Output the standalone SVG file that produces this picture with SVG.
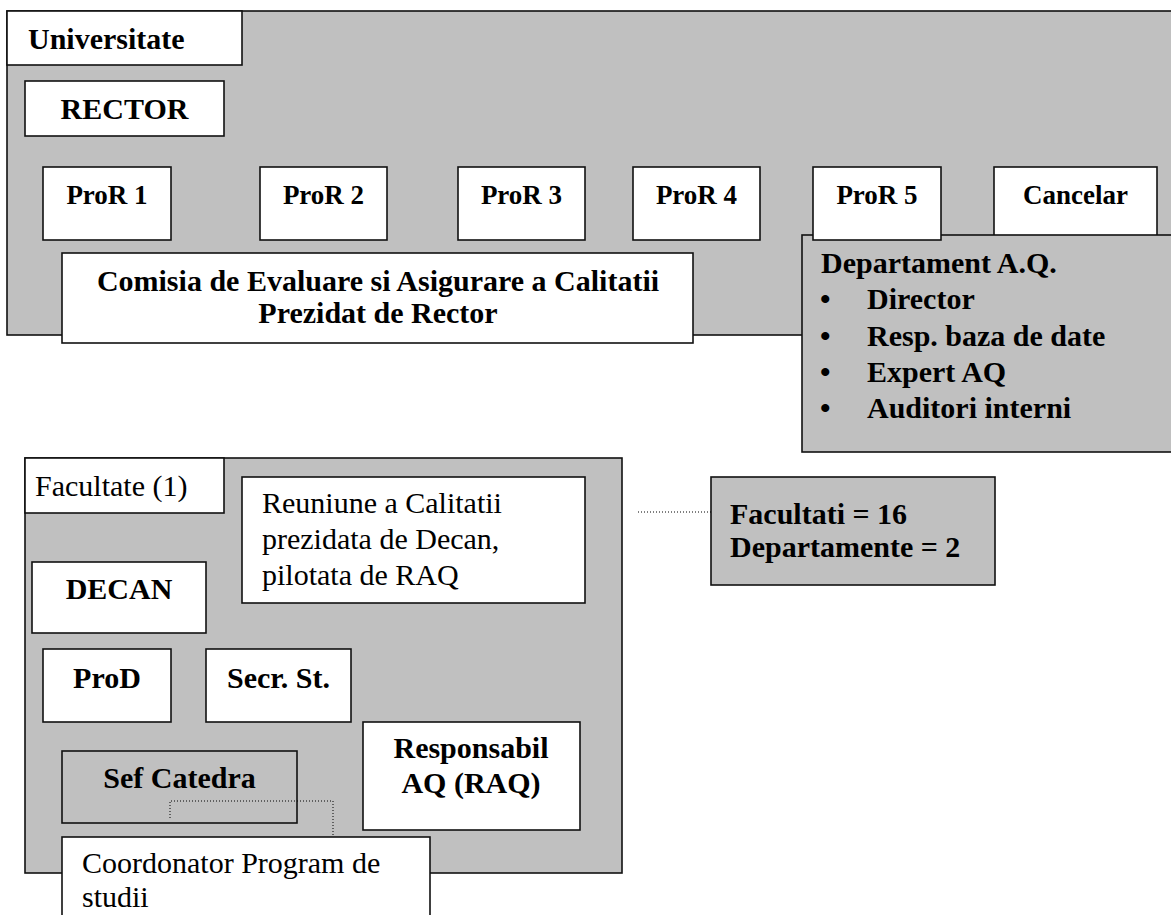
<svg xmlns="http://www.w3.org/2000/svg" width="1171" height="915" viewBox="0 0 1171 915">
<style>
  .box { fill: #ffffff; stroke: #111; stroke-width: 1.6; }
  .grey { fill: #c0c0c0; stroke: #111; stroke-width: 1.6; }
  .t { font-family: "Liberation Serif", "Times New Roman", serif; font-size: 30px; fill: #000; }
  .b { font-weight: bold; }
  .s { font-size: 27px; }
  .c { text-anchor: middle; }
  .dot { fill: none; stroke: #000; stroke-width: 1; stroke-dasharray: 1 2; }
</style>
<rect width="1171" height="915" fill="#ffffff"/>

<g id="universitate">
  <rect class="grey" x="7" y="11" width="1172" height="324"/>
  <rect class="box" x="7" y="11" width="235" height="54"/>
  <text class="t b" x="28" y="49">Universitate</text>
</g>
<g id="rector">
  <rect class="box" x="25" y="81" width="199" height="55"/>
  <text class="t b c" x="124.5" y="119">RECTOR</text>
</g>
<g id="pror1">
  <rect class="box" x="43" y="167" width="128" height="73"/>
  <text class="t b s c" x="107" y="204">ProR 1</text>
</g>
<g id="pror2">
  <rect class="box" x="260" y="167" width="127" height="73"/>
  <text class="t b s c" x="323.5" y="204">ProR 2</text>
</g>
<g id="pror3">
  <rect class="box" x="458" y="167" width="127" height="73"/>
  <text class="t b s c" x="521.5" y="204">ProR 3</text>
</g>
<g id="pror4">
  <rect class="box" x="633" y="167" width="127" height="73"/>
  <text class="t b s c" x="696.5" y="204">ProR 4</text>
</g>
<g id="cancelar">
  <rect class="box" x="994" y="167" width="163" height="80"/>
  <text class="t b s c" x="1075.5" y="204">Cancelar</text>
</g>
<g id="comisia">
  <rect class="box" x="62" y="253" width="631" height="90"/>
  <text class="t b c" x="378" y="291">Comisia de Evaluare si Asigurare a Calitatii</text>
  <text class="t b c" x="378" y="323">Prezidat de Rector</text>
</g>
<g id="departament">
  <rect class="grey" x="802" y="235" width="380" height="217"/>
  <text class="t b" x="821" y="273">Departament A.Q.</text>
  <text class="t b" x="820" y="309">•</text>
  <text class="t b" x="867" y="309">Director</text>
  <text class="t b" x="820" y="346">•</text>
  <text class="t b" x="867" y="346">Resp. baza de date</text>
  <text class="t b" x="820" y="382">•</text>
  <text class="t b" x="867" y="382">Expert AQ</text>
  <text class="t b" x="820" y="418">•</text>
  <text class="t b" x="867" y="418">Auditori interni</text>
</g>
<g id="pror5">
  <rect class="box" x="813" y="167" width="128" height="73"/>
  <text class="t b s c" x="877" y="204">ProR 5</text>
</g>

<g id="facultate">
  <rect class="grey" x="25" y="458" width="597" height="415"/>
  <rect class="box" x="25" y="458" width="199" height="55"/>
  <text class="t" x="35" y="496">Facultate (1)</text>
</g>
<g id="reuniune">
  <rect class="box" x="242" y="477" width="343" height="126"/>
  <text class="t" x="262" y="513">Reuniune a Calitatii</text>
  <text class="t" x="262" y="549">prezidata de Decan,</text>
  <text class="t" x="262" y="585">pilotata de RAQ</text>
</g>
<g id="decan">
  <rect class="box" x="32" y="562" width="174" height="71"/>
  <text class="t b c" x="119" y="599">DECAN</text>
</g>
<g id="prod">
  <rect class="box" x="43" y="649" width="128" height="73"/>
  <text class="t b c" x="107" y="688">ProD</text>
</g>
<g id="secr">
  <rect class="box" x="206" y="649" width="145" height="73"/>
  <text class="t b c" x="278.5" y="688">Secr. St.</text>
</g>
<g id="sefcatedra">
  <rect class="grey" x="62" y="751" width="235" height="72"/>
  <text class="t b c" x="179.5" y="788">Sef Catedra</text>
</g>
<g id="raq">
  <rect class="box" x="363" y="722" width="217" height="108"/>
  <text class="t b c" x="471" y="758">Responsabil</text>
  <text class="t b c" x="471" y="793">AQ (RAQ)</text>
</g>
<g id="coordonator">
  <rect class="box" x="62" y="837" width="368" height="100"/>
  <text class="t" x="82" y="873">Coordonator Program de</text>
  <text class="t" x="82" y="907">studii</text>
</g>
<g id="facultati">
  <rect class="grey" x="711" y="477" width="284" height="108"/>
  <text class="t b" x="730" y="524">Facultati = 16</text>
  <text class="t b" x="730" y="557">Departamente = 2</text>
</g>

<g id="connectors">
  <path class="dot" d="M638 512 H711"/>
  <path class="dot" d="M170 818 V801 H333 V837"/>
</g>
</svg>
